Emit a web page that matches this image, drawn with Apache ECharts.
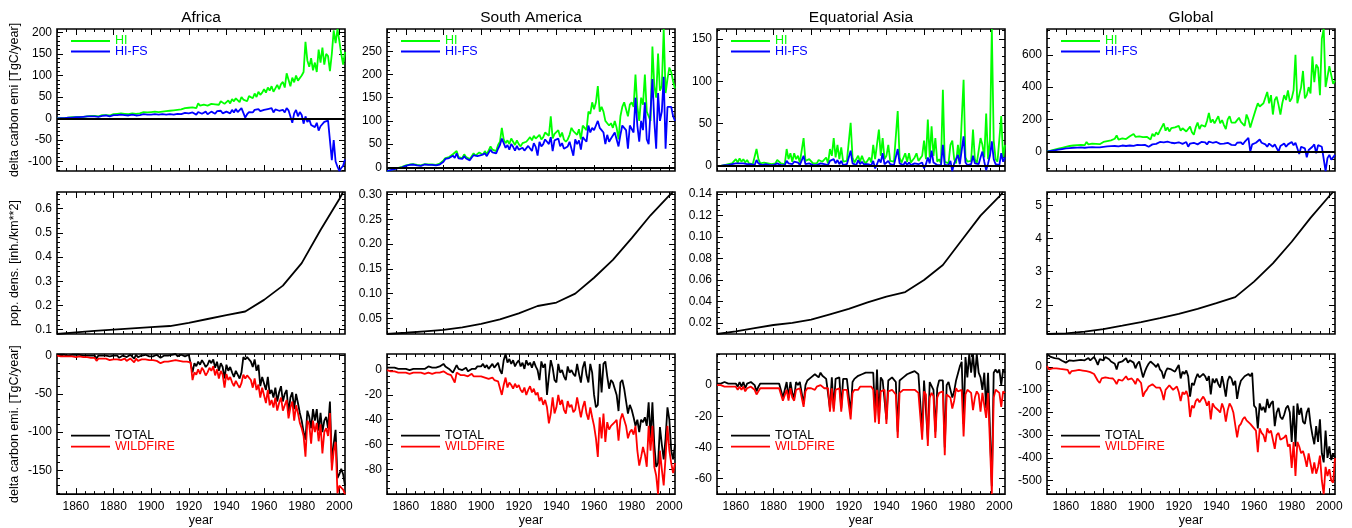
<!DOCTYPE html>
<html><head><meta charset="utf-8">
<script src="https://cdn.jsdelivr.net/npm/echarts@6/dist/echarts.min.js"></script>
<style>html,body{margin:0;padding:0;background:#fff}#c{width:1352px;height:528px}</style>
</head><body><div id="c"></div>
<script>
// ---------- categories ----------
const regions = ['Africa', 'South America', 'Equatorial Asia', 'Global'];
const years = []; for (let y = 1850; y <= 2003; y++) years.push(y);
const popYears = [1850,1860,1870,1880,1890,1900,1910,1920,1930,1940,1950,1960,1970,1980,1990,2000,2002];
const xTicks = [1860,1880,1900,1920,1940,1960,1980,2000];

// ---------- top row: HI / HI-FS (TgC/year), 1850-2003 ----------
const AF_HI = [
0,0,1,1,1,2,2,2,3,3, 3,3,4,4,4,5,5,5,6,6, 6,7,5,7,8,6,8,9,7,9, 10,9,11,10,12,9,11,12,10,12,
12,13,11,14,12,13,15,12,14,15, 15,14,16,17,15,18,16,19,17,20, 18,21,19,22,20,23,21,18,24,22,
25,23,26,28,24,35,30,27,32,36, 30,28,34,38,33,37,32,40,36,34, 38,42,35,45,40,47,43,38,50,44,
48,40,52,55,47,58,50,62,55,60, 68,60,72,65,75,62,70,78,68,80, 85,72,105,90,75,95,84,100,88,92,
100,108,178,135,120,140,112,130,108,160, 130,165,125,150,145,110,150,205,175,208, 180,150,125,155];
const AF_HIFS = [
0,0,1,1,1,2,2,2,2,3, 3,3,3,4,4,4,5,5,5,5, 5,6,4,6,6,5,7,7,5,7, 8,6,8,7,9,6,8,9,7,8,
9,8,7,10,8,9,10,7,9,10, 9,8,10,11,9,11,10,12,9,11, 10,12,9,13,11,14,10,8,13,11,
12,10,14,13,9,15,12,11,14,16, 10,12,16,14,11,17,13,18,12,14, 16,18,12,20,14,22,15,18,24,13,
2,10,15,18,14,20,16,22,17,18, 20,16,22,19,24,14,21,25,18,22, 20,14,24,19,22,-10,12,20,5,15,
8,-12,5,-8,-2,-15,-12,-20,-10,-28, -18,-22,-8,-10,-5,-6,-97,-50,-100,-112, -122,-115,-110,-95];
const SA_HI = [
-8,-7,-6,-4,-3,-2,-1,0,1,2, 4,7,6,5,7,6,5,6,4,6, 7,5,6,8,6,7,5,7,8,6, 15,20,18,22,25,28,24,35,22,25,
20,28,22,26,18,24,30,25,28,32, 30,27,35,28,32,45,38,40,35,48, 55,85,60,52,58,50,62,55,48,58,
50,45,52,48,55,60,65,58,68,62, 58,70,60,65,75,78,68,110,62,72, 70,80,65,75,60,55,60,70,85,78,
80,70,82,60,90,85,80,120,115,140, 125,140,175,120,130,120,100,95,90,95, 85,100,85,60,110,130,140,125,110,135,
140,130,200,130,100,150,135,200,120,110, 100,260,175,150,245,165,175,298,160,190, 215,205,185,170];
const SA_HIFS = [
-8,-7,-6,-5,-4,-3,-2,-1,0,1, 3,5,5,4,6,5,4,5,3,5, 6,4,5,6,5,6,4,6,6,5, 12,18,16,20,22,25,20,30,19,22,
18,24,19,22,15,21,26,22,24,28, 26,23,30,24,28,38,32,35,30,40, 48,62,52,42,48,38,50,44,36,46,
38,34,42,36,40,46,50,35,52,44, 25,55,45,50,60,55,50,65,35,58, 55,62,45,52,40,38,45,55,58,25,
60,50,58,38,65,60,55,90,75,85, 80,90,100,85,80,75,50,70,55,62, 60,75,60,45,70,90,85,80,40,90,
90,75,150,90,55,100,80,140,60,50, 50,190,100,40,160,100,120,195,40,130, 130,130,110,100];
const EA_HI = [
0,0,0,1,1,1,2,2,3,4, 8,4,9,5,8,4,7,3,5,2, 2,20,8,3,2,4,5,3,2,2, 2,3,7,5,3,4,2,20,8,15,
5,15,8,12,4,3,33,6,4,8, 8,3,2,3,7,8,5,6,10,3, 20,12,33,10,25,8,22,5,4,6,
8,51,10,4,3,12,5,12,6,3, 5,10,4,25,8,6,43,12,33,8, 12,25,6,4,5,6,65,10,4,3,
15,5,15,4,3,10,15,6,5,12, 30,8,55,10,47,12,33,5,8,3, 90,5,4,3,25,30,8,3,25,6,
4,102,10,5,4,6,43,8,3,5, 33,25,10,62,8,30,162,30,8,5, 3,59,10,25];
const EA_HIFS = [
0,0,0,0,1,1,1,1,2,2, 3,1,3,1,3,1,2,1,2,1, 1,7,3,1,1,2,2,1,1,1, 1,1,3,2,1,2,1,6,3,5,
2,5,3,4,1,1,12,2,1,3, 3,1,1,1,3,3,2,2,4,1, 6,4,8,3,7,2,6,1,1,2,
2,18,3,1,1,7,2,5,2,1, 2,4,1,6,-3,2,8,4,15,2, 3,6,2,1,1,2,20,3,1,1,
5,1,4,1,1,3,5,2,1,4, -3,2,10,3,18,4,6,1,2,1, 25,1,1,1,6,-6,3,1,13,2,
1,35,4,1,1,2,12,3,1,2, 10,17,5,-5,3,12,29,8,2,1, 1,15,5,10];
const GL_HI = [
0,3,6,9,12,15,18,21,24,27, 30,28,35,32,38,36,40,35,42,38, 40,60,45,42,50,45,48,52,46,55, 60,58,65,62,70,68,80,100,75,85,
82,90,78,85,95,88,110,92,85,95, 98,90,100,92,85,75,110,95,120,105, 130,120,175,130,150,125,145,135,150,140,
160,130,145,150,125,140,155,120,105,150, 180,140,165,175,155,190,240,180,200,175, 185,220,175,195,165,140,200,220,180,190,
180,195,210,185,175,160,230,200,150,190, 200,265,300,280,290,300,310,370,300,350, 230,320,340,290,230,300,350,320,380,310,
330,380,600,300,350,400,500,330,350,400, 360,590,430,540,520,350,700,760,400,390, 530,540,420,440];
const GL_HIFS = [
0,2,4,6,8,10,12,14,16,18, 20,18,22,20,24,21,25,20,26,22, 24,30,26,22,28,25,27,30,26,28, 30,25,32,28,34,30,35,40,32,36,
38,40,35,42,38,44,36,40,42,38, 40,36,42,38,30,32,45,40,48,50, 60,52,58,55,62,50,55,48,52,56,
58,50,48,55,60,30,50,45,55,52, 45,55,60,50,58,45,62,50,55,48, 60,52,48,58,50,45,55,60,42,48,
40,55,50,58,45,60,50,85,0,45, 40,55,60,75,55,60,45,30,50,40, 30,45,40,0,35,40,50,30,45,40,
60,40,55,45,-15,30,40,20,-35,10, 0,30,45,-10,40,50,30,40,-120,-40, -20,-50,-60,-20];

// ---------- middle row: population density (inh./km**2) ----------
const AF_POP = [0.082,0.089,0.095,0.100,0.105,0.110,0.115,0.128,0.144,0.160,0.175,0.223,0.282,0.375,0.512,0.640,0.669];
const SA_POP = [0.0185,0.021,0.024,0.027,0.032,0.039,0.048,0.060,0.075,0.082,0.100,0.132,0.168,0.212,0.258,0.298,0.305];
const EA_POP = [0.0096,0.012,0.015,0.018,0.020,0.023,0.028,0.033,0.039,0.0445,0.0487,0.060,0.074,0.097,0.120,0.138,0.142];
const GL_POP = [1.12,1.14,1.19,1.27,1.37,1.48,1.60,1.73,1.88,2.05,2.23,2.70,3.25,3.90,4.62,5.28,5.40];

// ---------- bottom row: TOTAL / WILDFIRE (TgC/year), 1850-2003 ----------
const AF_TOT = [
1,1,1,0,1,1,0,1,1,0, 1,0,1,0,0,1,0,-1,0,1, 0,-4,0,1,0,-1,0,1,-1,0, 0,-2,0,-3,-1,0,1,-2,0,1,
0,-4,1,-2,0,0,-1,1,0,-1, 0,-1,0,1,0,-3,-1,0,1,0, 0,1,0,2,-1,0,1,0,-1,0,
1,0,-22,-10,-14,-8,-12,-6,-10,-15, -12,-6,-10,-5,-16,-8,-20,-10,-15,-30, -12,-20,-15,-22,-28,-20,-25,-30,-22,-2,
-5,-2,-4,-8,-15,-5,-20,-12,-40,-28, -30,-45,-28,-50,-45,-55,-42,-60,-48,-40, -60,-50,-45,-75,-55,-48,-70,-50,-62,-75,
-85,-100,-110,-72,-80,-95,-70,-85,-70,-98, -75,-100,-85,-80,-95,-60,-140,-115,-97,-160, -155,-148,-155,-170];
const AF_WF = [
0,0,-1,-1,-1,-1,-1,-2,-1,-2, -2,-2,-1,-3,-2,-3,-2,-3,-3,-2, -3,-7,-4,-3,-4,-5,-4,-5,-6,-4, -5,-6,-5,-7,-6,-5,-4,-7,-5,-4,
-5,-9,-4,-7,-6,-5,-6,-5,-7,-6, -7,-6,-8,-7,-8,-10,-9,-8,-7,-8, -8,-7,-9,-6,-8,-7,-6,-8,-9,-8,
-7,-9,-32,-22,-25,-18,-24,-16,-20,-26, -22,-16,-20,-14,-26,-18,-30,-20,-25,-42, -24,-32,-28,-35,-40,-33,-38,-42,-36,-25,
-30,-26,-28,-32,-42,-30,-45,-38,-55,-42, -40,-62,-45,-65,-58,-68,-55,-72,-62,-55, -72,-65,-58,-82,-68,-60,-85,-65,-75,-88,
-95,-105,-132,-85,-90,-115,-85,-100,-88,-112, -90,-128,-100,-95,-105,-75,-150,-125,-113,-180, -170,-168,-175,-181];
const SA_TOT = [
2,1,2,1,2,1,1,2,1,1, 1,2,0,1,1,2,1,0,1,2, 1,2,3,2,2,3,2,2,3,2, 5,3,2,1,0,-2,-3,4,1,2,
0,1,2,-1,0,1,2,1,3,2, 3,5,2,4,1,3,5,2,3,6, 0,-3,8,13,6,9,5,8,3,6,
8,3,6,1,8,4,6,2,7,3, 0,-8,7,2,5,-20,-5,8,2,-8, -10,5,-2,0,-5,-8,3,-2,0,-3,
-5,5,-3,-10,2,7,-4,-10,5,-2, -20,-30,-28,5,-18,5,7,-5,-15,-8, -10,-15,-20,-33,-10,-8,-15,-25,-35,-28,
-32,-38,-45,-40,-50,-40,-42,-38,-45,-26, -55,-26,-60,-78,-75,-46,-60,-72,-55,-30, -40,-65,-72,-60];
const SA_WF = [
0,0,-1,-1,-1,-1,-2,-1,-2,-1, -2,-2,-3,-2,-2,-1,-2,-3,-2,-2, -3,-2,-2,-2,-3,-2,-2,-2,-2,-2, -1,-2,-3,-3,-4,-5,-10,-2,-3,-4,
-3,-4,-3,-5,-4,-3,-5,-4,-5,-4, -5,-4,-6,-5,-7,-8,-6,-8,-7,-9, -8,-20,-12,-6,-14,-10,-12,-15,-11,-14,
-12,-16,-18,-14,-20,-16,-13,-18,-15,-20, -18,-25,-22,-28,-24,-30,-43,-35,-22,-35, -30,-20,-28,-24,-32,-35,-25,-30,-28,-34,
-32,-22,-30,-38,-30,-25,-35,-40,-30,-38, -45,-55,-70,-38,-55,-35,-58,-42,-48,-45, -45,-42,-40,-57,-40,-35,-40,-45,-55,-50,
-48,-52,-45,-65,-77,-70,-62,-68,-78,-45, -65,-45,-78,-85,-100,-65,-80,-93,-70,-45, -65,-75,-83,-75];
const EA_TOT = [
1,1,1,1,2,1,1,1,1,0, 1,-1,2,-1,2,-2,1,0,2,1, 0,-4,-1,1,0,1,2,1,2,1, 2,1,2,1,0,-8,-8,2,-8,2,
-5,-8,2,0,2,1,-12,0,3,4, 5,6,7,6,5,8,6,5,4,3, -15,5,-15,4,3,5,-15,4,5,4,
3,-18,2,4,5,6,5,7,6,8, 7,8,9,8,-20,10,-22,5,3,4, -22,3,4,5,4,2,-30,3,4,5,
6,7,8,8,9,9,8,7,6,-30, 3,2,-35,2,3,-3,-30,-2,3,2, 3,-40,0,2,3,-8,-4,3,4,12,
15,-25,18,5,20,8,20,5,20,8, 5,-3,8,-15,8,8,-65,8,10,8, 10,0,10,8];
const EA_WF = [
0,0,0,0,-1,0,-1,0,-1,-2, -1,-3,-1,-3,-1,-4,-2,-3,-1,-2, -3,-6,-4,-2,-3,-2,-1,-2,-1,-2, -1,-2,-1,-2,-3,-10,-10,-3,-10,-2,
-8,-10,-3,-4,-2,-3,-14,-4,-2,-3, -2,-2,-3,-1,-2,0,-1,-2,-3,-2, -17,-2,-17,-3,-4,-2,-17,-3,-2,-3,
-4,-22,-5,-3,-2,-3,-1,-2,-1,-2, -1,-2,-1,-3,-24,-3,-25,-4,-5,-3, -25,-4,-5,-3,-4,-6,-34,-5,-4,-3,
-2,-3,-4,-3,-2,-3,-4,-5,-6,-35, -4,-6,-39,-8,-5,-7,-34,-8,-5,-6, -4,-45,-6,-5,-8,-15,-10,-2,-4,-3,
-3,-33,-6,-3,-4,-5,-16,-8,-4,-6, -17,-5,-4,-21,-5,-6,-70,-8,-3,-4, -5,-14,-4,-5];
const GL_TOT = [
58,50,45,48,40,35,38,30,28,25, 20,25,30,22,28,25,30,27,32,28, 30,35,40,30,38,45,30,10,35,40, 30,45,50,35,25,20,15,-10,20,25,
25,30,40,20,30,35,20,-5,15,25, 20,-45,-20,0,15,25,20,10,0,15, -10,-20,-50,-20,-5,0,-10,-15,-20,-5,
10,-50,-20,-30,-15,-40,-130,-70,-80,-50, -30,-45,-50,-30,-40,-60,-40,-120,-50,-70, -50,-75,-90,-40,-80,-130,-60,-40,-50,-80,
-60,-140,-90,-60,-50,-40,-45,-30,-40,-25, -170,-180,-270,-160,-190,-175,-200,-140,-180,-160, -150,-260,-200,-180,-220,-230,-210,-180,-170,-200,
-330,-170,-350,-160,-210,-180,-240,-250,-200,-180, -250,-300,-340,-260,-330,-230,-380,-420,-280,-400, -350,-410,-380,-400];
const GL_WF = [
5,-10,-2,-5,-8,-5,-10,-8,-12,-10, -15,-12,-30,-18,-15,-15,-20,-12,-18,-15, -20,-18,-25,-22,-28,-30,-25,-60,-70,-50, -50,-45,-40,-48,-55,-50,-60,-75,-55,-60,
-60,-55,-40,-55,-48,-50,-60,-75,-50,-55, -70,-130,-110,-100,-85,-80,-75,-70,-90,-85, -90,-110,-145,-100,-95,-80,-90,-100,-95,-85,
-110,-150,-110,-120,-105,-130,-220,-170,-180,-150, -140,-155,-150,-130,-145,-170,-150,-230,-160,-175, -180,-190,-200,-160,-185,-240,-190,-160,-175,-200,
-200,-310,-260,-250,-230,-220,-235,-230,-250,-260, -270,-280,-375,-270,-290,-300,-330,-270,-290,-280, -280,-360,-300,-290,-320,-320,-310,-300,-350,-340,
-445,-330,-480,-330,-350,-380,-370,-400,-440,-380, -380,-470,-420,-470,-440,-390,-500,-560,-440,-480, -450,-500,-510,-400];

// ---------- tick labels ----------
const yTicksTop = [[-100,-50,0,50,100,150,200],[0,50,100,150,200,250],[0,50,100,150],[0,200,400,600]];
const yTicksMid = [[0.1,0.2,0.3,0.4,0.5,0.6],[0.05,0.10,0.15,0.20,0.25,0.30],[0.02,0.04,0.06,0.08,0.10,0.12,0.14],[2,3,4,5]];
const yTicksBot = [[-150,-100,-50,0],[-80,-60,-40,-20,0],[-60,-40,-20,0],[-500,-400,-300,-200,-100,0]];

// ---------- layout / style ----------
const FONT = '"Liberation Sans", Arial, Helvetica, sans-serif';
const GL = [57, 387, 717, 1047], GT = [29, 192, 354], GW = 288, GH = 142;
const COL = {green:'#00ff00', blue:'#0000ff', red:'#ff0000', black:'#000000'};
const LW = 1.8;

const rows = [
  {names:['HI','HI-FS'], colors:[COL.green, COL.blue], x: years,
   data:[[AF_HI,AF_HIFS],[SA_HI,SA_HIFS],[EA_HI,EA_HIFS],[GL_HI,GL_HIFS]],
   ticks:yTicksTop, minor:[10,10,10,50], dec:[0,0,0,0], yname:'delta carbon emi [TgC/year]',
   zero:true, legend:true, legendTop:[34,44.5]},
  {names:['pop'], colors:[COL.black], x: popYears,
   data:[[AF_POP],[SA_POP],[EA_POP],[GL_POP]],
   ticks:yTicksMid, minor:[0.02,0.01,0.005,0.2], dec:[1,2,2,0], yname:'pop. dens. [inh./km**2]',
   zero:false, legend:false},
  {names:['TOTAL','WILDFIRE'], colors:[COL.black, COL.red], x: years,
   data:[[AF_TOT,AF_WF],[SA_TOT,SA_WF],[EA_TOT,EA_WF],[GL_TOT,GL_WF]],
   ticks:yTicksBot, minor:[10,5,5,20], dec:[0,0,0,0], yname:'delta carbon emi. [TgC/year]',
   zero:false, legend:true, legendTop:[428.7,439.7]}
];

function minorVals(min, max, step) {
  const out = [];
  for (let k = Math.ceil(min / step - 1e-9); k * step <= max + 1e-9; k++) out.push(+(k * step).toFixed(6));
  return out;
}
function ext(arrs) {
  let mn = Infinity, mx = -Infinity;
  arrs.forEach(a => a.forEach(v => { if (v < mn) mn = v; if (v > mx) mx = v; }));
  return [mn, mx];
}
const xMinor = minorVals(1850, 2003, 5);

const grids = [], xAxes = [], yAxes = [], series = [], titles = [], legends = [];
const tickLine = {color:'#000', width:1};

function mkX(g, pos, vals, len, showLabel, name) {
  return {type:'value', gridIndex:g, position:pos, min:1850, max:2003,
    axisLine:{show:false, onZero:false}, splitLine:{show:false},
    axisTick:{show:true, inside:true, length:len, customValues:vals, lineStyle:tickLine},
    axisLabel:{show:showLabel, customValues:vals, margin:7, color:'#000', fontSize:12, fontFamily:FONT,
      formatter: v => String(Math.round(v))},
    name:name || '', nameLocation:'middle', nameGap:19,
    nameTextStyle:{color:'#000', fontSize:12.5, fontFamily:FONT}};
}
function mkY(g, pos, vals, len, showLabel, mn, mx, dec, name) {
  return {type:'value', gridIndex:g, position:pos, min:mn, max:mx,
    axisLine:{show:false, onZero:false}, splitLine:{show:false},
    axisTick:{show:true, inside:true, length:len, customValues:vals, lineStyle:tickLine},
    axisLabel:{show:showLabel, customValues:vals, margin:5, color:'#000', fontSize:12, fontFamily:FONT,
      formatter: v => Number(v).toFixed(dec)},
    name:name || '', nameLocation:'middle', nameGap:36, nameRotate:90,
    nameTextStyle:{color:'#000', fontSize:12.5, fontFamily:FONT}};
}

rows.forEach((row, r) => {
  for (let c = 0; c < 4; c++) {
    const g = r * 4 + c;
    grids.push({left:GL[c], top:GT[r], width:GW, height:GH, show:true, borderColor:'#000', borderWidth:1.6, backgroundColor:'transparent'});
    const [mn, mx] = ext(row.data[c]);
    const yMinor = minorVals(mn, mx, row.minor[c]);
    const isBottom = r === 2;
    xAxes.push(mkX(g, 'bottom', xTicks, 6, isBottom, isBottom ? 'year' : ''));
    xAxes.push(mkX(g, 'bottom', xMinor, 3, false));
    xAxes.push(mkX(g, 'top', xTicks, 6, false));
    xAxes.push(mkX(g, 'top', xMinor, 3, false));
    yAxes.push(mkY(g, 'left', row.ticks[c], 6, true, mn, mx, row.dec[c], c === 0 ? row.yname : ''));
    yAxes.push(mkY(g, 'left', yMinor, 3, false, mn, mx, 0));
    yAxes.push(mkY(g, 'right', row.ticks[c], 6, false, mn, mx, 0));
    yAxes.push(mkY(g, 'right', yMinor, 3, false, mn, mx, 0));

    row.data[c].forEach((vals, k) => {
      const s = {
        type:'line', name:row.names[k], xAxisIndex:g * 4, yAxisIndex:g * 4,
        data: row.x.map((x, i) => [x, vals[i]]),
        symbol:'none', showSymbol:false, smooth:false,
        lineStyle:{color:row.colors[k], width:LW}, itemStyle:{color:row.colors[k]},
        z: 3 + k, clip:true
      };
      if (row.zero && k === row.data[c].length - 1) {
        s.markLine = {silent:true, symbol:['none','none'], label:{show:false},
          lineStyle:{color:'#000', width:1.8, type:'solid'}, data:[{yAxis:0}], animation:false};
      }
      series.push(s);
    });

    if (r === 0) {
      titles.push({text:regions[c], left:GL[c] + GW / 2, top:10, textAlign:'center', padding:0,
        textStyle:{fontSize:15.5, fontWeight:'normal', color:'#000', fontFamily:FONT}});
    }
    if (row.legend) {
      row.names.forEach((nm, k) => {
        legends.push({show:true, left:GL[c] + 14, top:row.legendTop[k], padding:0, orient:'horizontal',
          icon:'rect', itemWidth:39, itemHeight:1.8, itemGap:0, selectedMode:false,
          itemStyle:{borderWidth:0},
          data:[{name:nm, textStyle:{color:row.colors[k]}}],
          textStyle:{fontSize:12.5, fontFamily:FONT, lineHeight:14}});
      });
    }
  }
});

const chart = echarts.init(document.getElementById('c'), null, {renderer:'canvas'});
chart.setOption({
  animation:false, backgroundColor:'#fff',
  title:titles, legend:legends, grid:grids, xAxis:xAxes, yAxis:yAxes, series:series
});
</script>
</body></html>
